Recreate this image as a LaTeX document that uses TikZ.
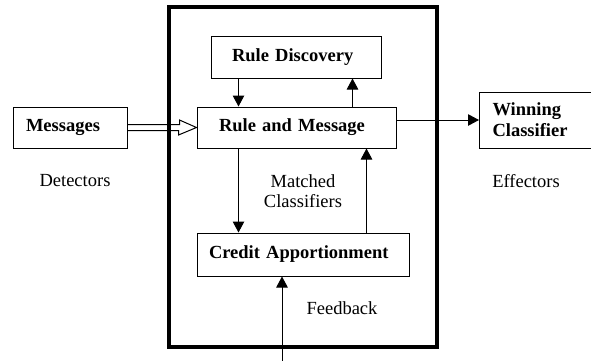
\documentclass[tikz,border=0pt]{standalone}
\usepackage{fontspec}
\setmainfont{Liberation Serif}
\usetikzlibrary{arrows.meta,calc}
\begin{document}
\begin{tikzpicture}[x=1pt,y=-1pt,
  box/.style={draw,line width=1pt,font=\bfseries\fontsize{18.5}{21}\selectfont,align=left,inner ysep=0pt},
  lbl/.style={font=\fontsize{18.5}{19.5}\selectfont,align=center,inner sep=0pt},
  arr/.style={line width=1pt,-{Triangle[length=11pt,width=11.5pt]}}]
\useasboundingbox (0,0) rectangle (591,360);
% boxes
\node[box,text width=88pt,inner xsep=13pt,minimum height=41pt] (msg) at (70,127.5) {Messages};
\node[box,text width=128pt,inner xsep=21pt,minimum height=42pt] (rd) at (296,57) {Rule Discovery};
\node[box,text width=155pt,inner xsep=22pt,minimum height=41pt] (rm) at (296.5,127.5) {Rule and Message};
\node[box,text width=188pt,inner xsep=12pt,minimum height=43pt] (ca) at (303,254.5) {Credit Apportionment};
\node[box,anchor=west,text width=95pt,inner xsep=13pt,minimum height=56pt] (wc) at (479,120) {Winning\\Classifier};
% labels
\node[lbl] (det) at (75,181) {Detectors};
\node[lbl] (eff) at (526,181) {Effectors};
\node[lbl] (mc) at (303,191) {Matched\\Classifiers};
\node[lbl] (fbl) at (342,308) {Feedback};
% arrows
\draw[arr] ([xshift=28pt]rd.south west) -- ([xshift=42pt]rm.north west);
\draw[arr] ([xshift=156pt]rm.north west) -- ([xshift=142pt]rd.south west);
\draw[arr] ([xshift=42pt]rm.south west) -- ([xshift=42pt]ca.north west);
\draw[arr] ([xshift=170pt]ca.north west) -- ([xshift=170pt]rm.south west);
\draw[arr] (rm.east |- wc.west) -- (wc.west);
\coordinate (fb) at (282,362);
\draw[arr] (fb) -- (fb |- ca.south);
% hollow double arrow
\draw[line width=1pt,line join=miter] ([yshift=3pt]msg.east) -- ++(52,0) -- ++(0,-4.5) -- (rm.west) -- ++(-18,7.5) -- ++(0,-4.5) -- ([yshift=-3pt]msg.east);
% system frame
\node[draw,line width=3.5pt,minimum width=268pt,minimum height=340pt,inner sep=0pt] (sys) at (303,177) {};
\end{tikzpicture}
\end{document}
